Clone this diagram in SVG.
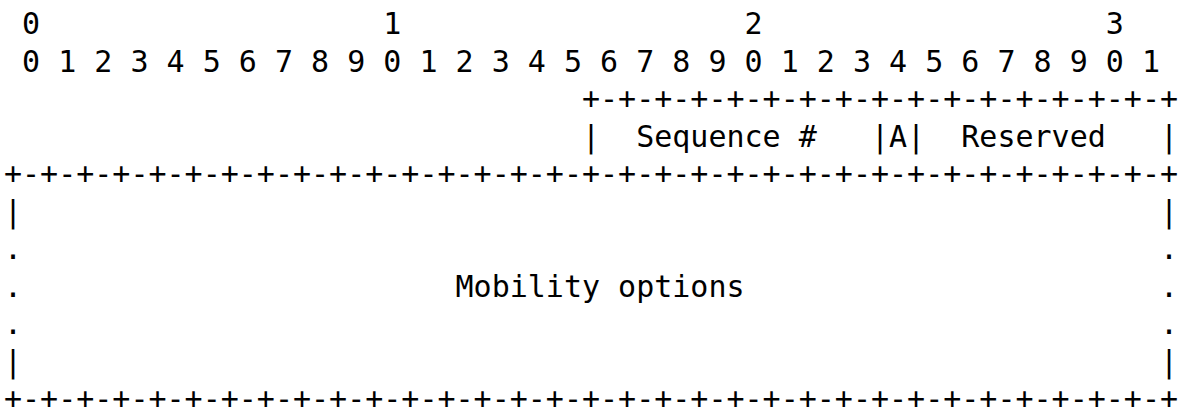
<svg xmlns="http://www.w3.org/2000/svg" width="1183" height="411" viewBox="0 0 1183 411">
<style>
text{font-family:"DejaVu Sans Mono","Liberation Mono",monospace;font-size:30px;fill:#000;white-space:pre}
</style>
<rect width="1183" height="411" fill="#fff"/>
<g id="ruler">
<text x="4" y="34" xml:space="preserve"> 0                   1                   2                   3</text>
<text x="4" y="71.5" xml:space="preserve"> 0 1 2 3 4 5 6 7 8 9 0 1 2 3 4 5 6 7 8 9 0 1 2 3 4 5 6 7 8 9 0 1</text>
</g>
<g id="header">
<text x="4" y="109" xml:space="preserve">                                +-+-+-+-+-+-+-+-+-+-+-+-+-+-+-+-+</text>
<text x="4" y="146.5" xml:space="preserve">                                |  Sequence #   |A|  Reserved   |</text>
<text x="4" y="184" xml:space="preserve">+-+-+-+-+-+-+-+-+-+-+-+-+-+-+-+-+-+-+-+-+-+-+-+-+-+-+-+-+-+-+-+-+</text>
</g>
<g id="options">
<text x="4" y="221.5" xml:space="preserve">|                                                               |</text>
<text x="4" y="259" xml:space="preserve">.                                                               .</text>
<text x="4" y="296.5" xml:space="preserve">.                        Mobility options                       .</text>
<text x="4" y="334" xml:space="preserve">.                                                               .</text>
<text x="4" y="371.5" xml:space="preserve">|                                                               |</text>
<text x="4" y="409" xml:space="preserve">+-+-+-+-+-+-+-+-+-+-+-+-+-+-+-+-+-+-+-+-+-+-+-+-+-+-+-+-+-+-+-+-+</text>
</g>
</svg>
